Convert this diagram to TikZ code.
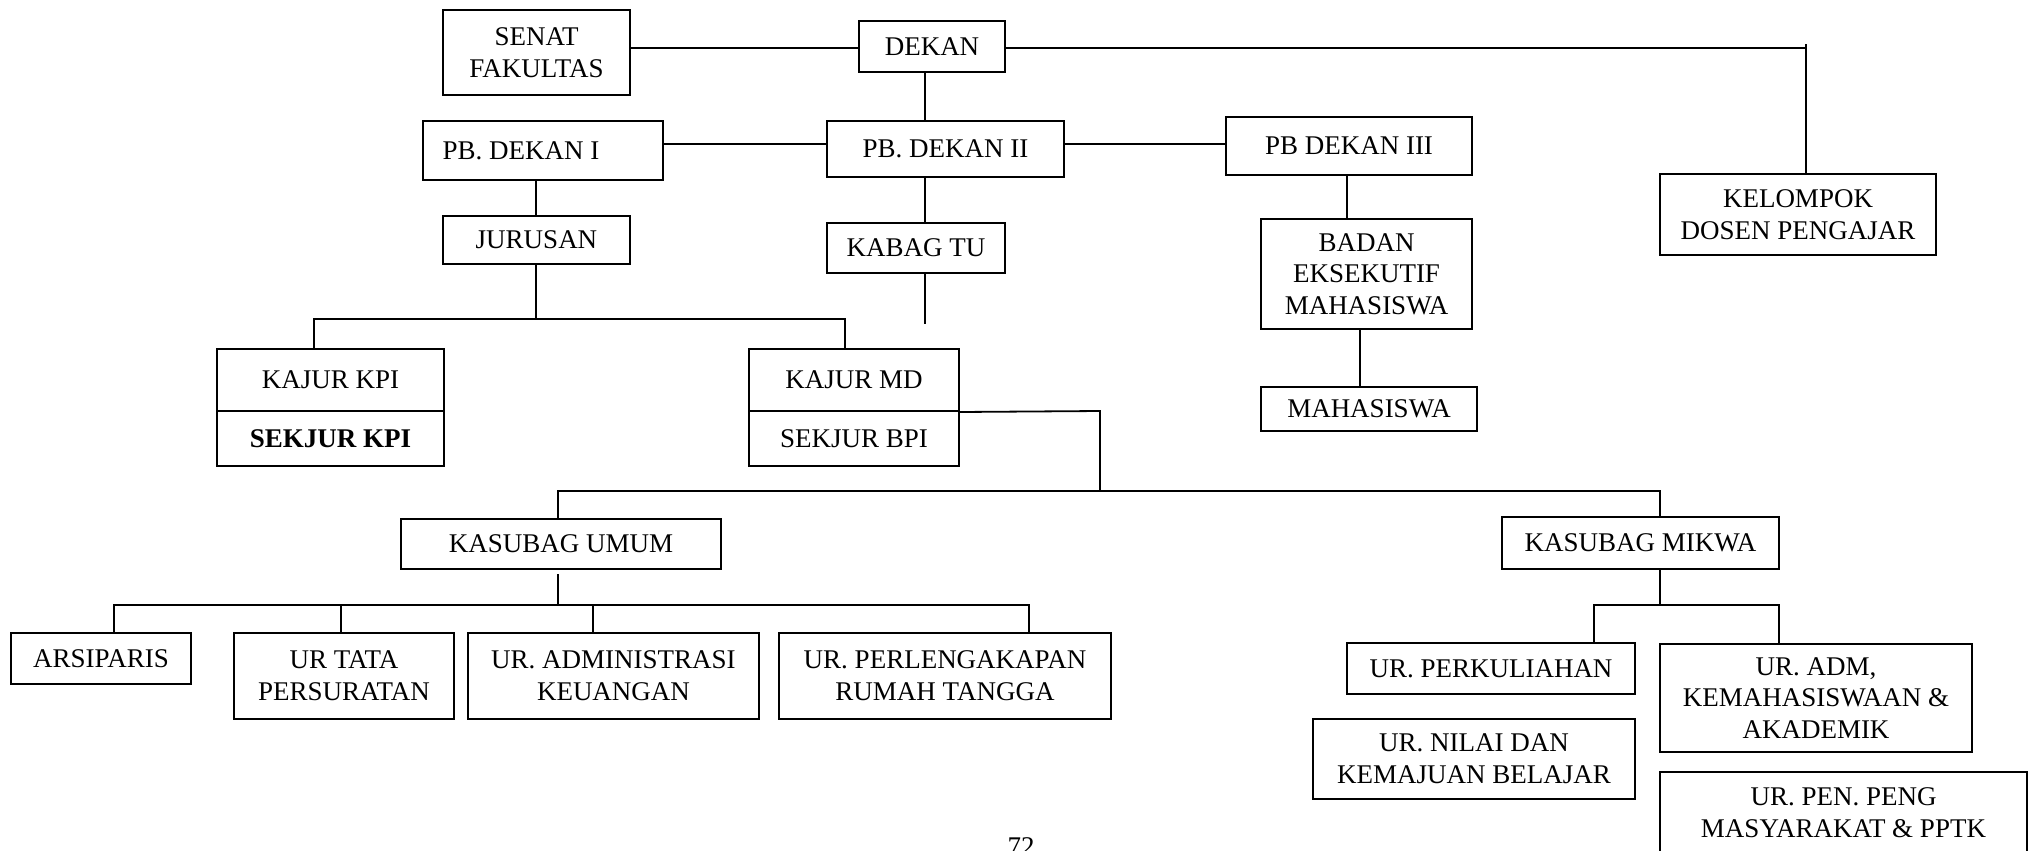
\documentclass[tikz,border=0pt]{standalone}
\usepackage{fontspec}
\setmainfont{Liberation Serif}
\begin{document}
\begin{tikzpicture}[x=0.5pt,y=-0.5pt,
  box/.style={draw, line width=1pt, inner sep=0pt, align=center, font=\fontsize{13.5}{15.85}\selectfont},
  conn/.style={line width=0.9pt},
  thinconn/.style={line width=0.7pt}]
\newcommand\bx[6]{\node[box,minimum width=#4*0.5pt,minimum height=#5*0.5pt] (#1) at (#2,#3) {#6};}
\useasboundingbox (0,0) rectangle (2035,851);
\fill[white] (0,0) rectangle (2035,851);
% boxes
\bx{senat}{536.5}{52.5}{187}{85}{SENAT\\FAKULTAS}
\bx{dekan}{932}{46.5}{146}{51}{DEKAN}
\bx{pb1}{543}{150.5}{240}{59}{PB. DEKAN I\hspace*{22pt}}
\bx{pb2}{945.5}{149}{237}{56}{PB. DEKAN II}
\bx{pb3}{1349}{146}{246}{58}{PB DEKAN III}
\bx{jur}{536.5}{240}{187}{48}{JURUSAN}
\bx{kabag}{916}{248}{178}{50}{KABAG TU}
\bx{kpi}{330.5}{380}{227}{62}{KAJUR KPI}
\bx{skpi}{330.5}{438.5}{227}{55}{\textbf{SEKJUR KPI}}
\bx{kmd}{854}{380}{210}{62}{KAJUR MD}
\bx{skmd}{854}{438.5}{210}{55}{SEKJUR BPI}
\bx{badan}{1366.5}{274}{211}{110}{BADAN\\EKSEKUTIF\\MAHASISWA}
\bx{maha}{1369}{409}{216}{44}{MAHASISWA}
\bx{kel}{1798}{214.5}{276}{81}{KELOMPOK\\DOSEN PENGAJAR}
\bx{ksu}{561}{544}{320}{50}{KASUBAG UMUM}
\bx{ksm}{1640.5}{543}{277}{52}{KASUBAG MIKWA}
\bx{ars}{101}{658.5}{180}{51}{ARSIPARIS}
\bx{urt}{344}{676}{220}{86}{UR TATA\\PERSURATAN}
\bx{ura}{613.5}{676}{291}{86}{UR. ADMINISTRASI\\KEUANGAN}
\bx{urp}{945}{676}{332}{86}{UR. PERLENGAKAPAN\\RUMAH TANGGA}
\bx{uk}{1491}{668.5}{288}{51}{UR. PERKULIAHAN}
\bx{uadm}{1816}{698}{312}{108}{UR. ADM,\\KEMAHASISWAAN \&\\AKADEMIK}
\bx{un}{1474}{759}{322}{80}{UR. NILAI DAN\\KEMAJUAN BELAJAR}
\bx{upen}{1843.5}{813}{367}{82}{UR. PEN. PENG\\MASYARAKAT \& PPTK}
\node[anchor=base, inner sep=0pt, font=\fontsize{13.5}{15.85}\selectfont] (pg) at (1021,855) {72};
% connectors
\coordinate (kc) at (1806,44);
\coordinate (tl) at (0,48);
\draw[conn] (dekan.west |- tl) -- (senat.east |- tl);
\draw[conn] (dekan.east |- tl) -- (kc |- tl);
\draw[thinconn] (kc) -- (kc |- kel.north);
\coordinate (vx) at (925,0);
\draw[thinconn] (vx |- dekan.south) -- (vx |- pb2.north);
\coordinate (hl) at (0,144);
\draw[conn] (pb1.east |- hl) -- (pb2.west |- hl);
\draw[conn] (pb2.east |- hl) -- (pb3.west |- hl);
\coordinate (jx) at (536,0);
\draw[conn] (jx |- jur.north) -- (jx |- pb1.south);
\coordinate (b1l) at (314,319);
\coordinate (b1r) at (845,319);
\draw[conn] (jx |- jur.south) -- (jx |- b1l);
\draw[conn] (kpi.north -| b1l) -- (b1l) -- (b1r) -- (b1r |- kmd.north);
\draw[thinconn] (vx |- pb2.south) -- (vx |- kabag.north);
\coordinate (kend) at (925,324);
\draw[thinconn] (kend |- kabag.south) -- (kend);
\coordinate (mdr) at (1100,411);
\coordinate (b2l) at (558,491);
\coordinate (b2r) at (1660,491);
\draw[conn] (kmd.south east) -- (mdr) -- (mdr |- b2l);
\draw[conn] (b2l |- ksu.north) -- (b2l) -- (b2r) -- (b2r |- ksm.north);
\coordinate (g1) at (558,574);
\coordinate (d1) at (114,605);
\coordinate (d2) at (341,605);
\coordinate (d3) at (593,605);
\coordinate (d4) at (1029,605);
\draw[thinconn] (g1) -- (g1 |- d1);
\draw[conn] (d1 |- ars.north) -- (d1) -- (d4) -- (d4 |- urp.north);
\draw[thinconn] (d2) -- (d2 |- urt.north);
\draw[thinconn] (d3) -- (d3 |- ura.north);
\coordinate (e1) at (1594,605);
\coordinate (e2) at (1779,605);
\draw[conn] (b2r |- ksm.south) -- (b2r |- e1);
\draw[conn] (e1 |- uk.north) -- (e1) -- (e2) -- (e2 |- uadm.north);
\coordinate (px) at (1347,0);
\draw[thinconn] (px |- pb3.south) -- (px |- badan.north);
\coordinate (mx) at (1360,0);
\draw[thinconn] (mx |- badan.south) -- (mx |- maha.north);
\end{tikzpicture}
\end{document}
